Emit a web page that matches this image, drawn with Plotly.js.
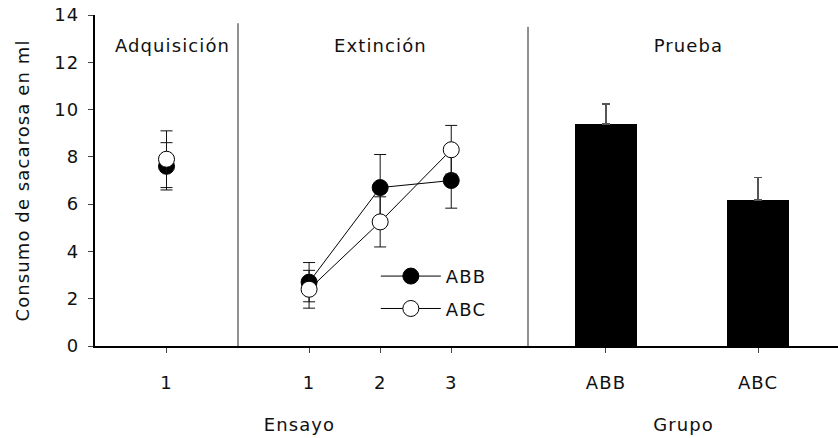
<!DOCTYPE html>
<html>
<head>
<meta charset="utf-8">
<script src="https://cdn.plot.ly/plotly-3.0.1.min.js"></script>
<style>
body{margin:0;padding:0;background:#fff;}
.main-svg text{letter-spacing:1.1px;}
</style>
</head>
<body>
<div id="chart" style="width:838px;height:438px;"></div>
<script>
// ---- data ----
const adqTrial = [1];
const adqABB = [7.6];
const adqABBerr = [1.0];
const adqABC = [7.9];
const adqABCerr = [1.2];

const extTrials = [1, 2, 3];
const extABB = [2.7, 6.7, 7.0];
const extABBerr = [0.83, 1.4, 1.17];
const extABC = [2.4, 5.25, 8.3];
const extABCerr = [0.8, 1.06, 1.03];

const groups = ['ABB', 'ABC'];
const testMeans = [9.4, 6.18];
const testErr = [0.83, 0.95];

const panelTitles = ['Adquisición', 'Extinción', 'Prueba'];
const yTitle = 'Consumo de sacarosa en ml';
const xTitleLeft = 'Ensayo';
const xTitleRight = 'Grupo';

// ---- styling ----
const FONT = 'DejaVu Sans, Verdana, sans-serif';
const TXT = '#111';
const d1 = 143 / 743, d2 = 433 / 743;

function errCfg(arr, w) {
  return {type: 'data', array: arr, visible: true, color: '#111', thickness: 1, width: w};
}
const filled = {size: 16, color: '#000', line: {color: '#000', width: 1}};
const hollow = {size: 16, color: '#fff', line: {color: '#000', width: 1}};

const traces = [
  {x: adqTrial, y: adqABB, xaxis: 'x', yaxis: 'y', mode: 'markers', marker: filled,
   error_y: errCfg(adqABBerr, 6), showlegend: false, name: 'ABB'},
  {x: adqTrial, y: adqABC, xaxis: 'x', yaxis: 'y', mode: 'markers', marker: hollow,
   error_y: errCfg(adqABCerr, 6), showlegend: false, name: 'ABC'},
  {x: extTrials, y: extABB, xaxis: 'x2', yaxis: 'y', mode: 'lines+markers', marker: filled,
   line: {color: '#000', width: 1}, error_y: errCfg(extABBerr, 6), name: 'ABB', legendgroup: 'g1'},
  {x: extTrials, y: extABC, xaxis: 'x2', yaxis: 'y', mode: 'lines+markers', marker: hollow,
   line: {color: '#000', width: 1}, error_y: errCfg(extABCerr, 6), name: 'ABC', legendgroup: 'g2'},
  {x: groups, y: testMeans, xaxis: 'x3', yaxis: 'y', type: 'bar', width: 0.41,
   marker: {color: '#000', line: {width: 0}}, showlegend: false,
   error_y: {type: 'data', array: testErr, arrayminus: [0, 0], symmetric: false, visible: true,
             color: '#555', thickness: 1.5, width: 4}}
];

const xCommon = {
  showline: true, linecolor: '#000', linewidth: 2, showgrid: false, zeroline: false,
  ticks: 'outside', ticklen: 5, tickwidth: 1, tickcolor: '#444',
  tickfont: {family: FONT, size: 18, color: TXT}, ticklabelstandoff: 14,
  anchor: 'y', fixedrange: true
};

const layout = {
  width: 838, height: 438,
  margin: {l: 95, r: 0, t: 15, b: 92},
  paper_bgcolor: '#fff', plot_bgcolor: '#fff',
  font: {family: FONT, size: 18, color: TXT},
  bargap: 0,
  xaxis: Object.assign({}, xCommon, {domain: [0, d1], range: [0, 2], tickvals: adqTrial}),
  xaxis2: Object.assign({}, xCommon, {domain: [d1, d2], range: [0, 4.08], tickvals: extTrials}),
  xaxis3: Object.assign({}, xCommon, {domain: [d2, 1], type: 'category', range: [-0.513, 1.526]}),
  yaxis: {
    range: [0, 14], dtick: 2, showline: true, linecolor: '#000', linewidth: 2,
    showgrid: false, zeroline: false, ticks: 'outside', ticklen: 5, tickwidth: 1, tickcolor: '#444',
    tickfont: {family: FONT, size: 18, color: TXT}, ticklabelstandoff: 5,
    title: {text: yTitle, font: {family: FONT, size: 18, color: TXT}, standoff: 22},
    fixedrange: true
  },
  legend: {
    x: 0.378, y: 0.162, xanchor: 'left', yanchor: 'middle',
    bgcolor: 'rgba(0,0,0,0)', font: {family: FONT, size: 18, color: TXT},
    tracegroupgap: 6, traceorder: 'grouped', itemwidth: 60
  },
  shapes: [
    {type: 'line', xref: 'paper', yref: 'y', x0: d1, x1: d1, y0: 0, y1: 13.65, line: {color: '#222', width: 1}},
    {type: 'line', xref: 'paper', yref: 'y', x0: d2, x1: d2, y0: 0, y1: 13.5, line: {color: '#222', width: 1}}
  ],
  annotations: [
    {text: panelTitles[0], xref: 'paper', yref: 'paper', x: (172.5 - 95) / 743, y: (346 - 45) / 331, showarrow: false, xanchor: 'center', yanchor: 'middle'},
    {text: panelTitles[1], xref: 'paper', yref: 'paper', x: (380 - 95) / 743, y: (346 - 45) / 331, showarrow: false, xanchor: 'center', yanchor: 'middle'},
    {text: panelTitles[2], xref: 'paper', yref: 'paper', x: (688 - 95) / 743, y: (346 - 45) / 331, showarrow: false, xanchor: 'center', yanchor: 'middle'},
    {text: xTitleLeft, xref: 'paper', yref: 'paper', x: (299 - 95) / 743, y: (346 - 424) / 331, showarrow: false, xanchor: 'center', yanchor: 'middle'},
    {text: xTitleRight, xref: 'paper', yref: 'paper', x: (683 - 95) / 743, y: (346 - 424) / 331, showarrow: false, xanchor: 'center', yanchor: 'middle'}
  ]
};

Plotly.newPlot('chart', traces, layout, {staticPlot: true, displayModeBar: false});
</script>
</body>
</html>
